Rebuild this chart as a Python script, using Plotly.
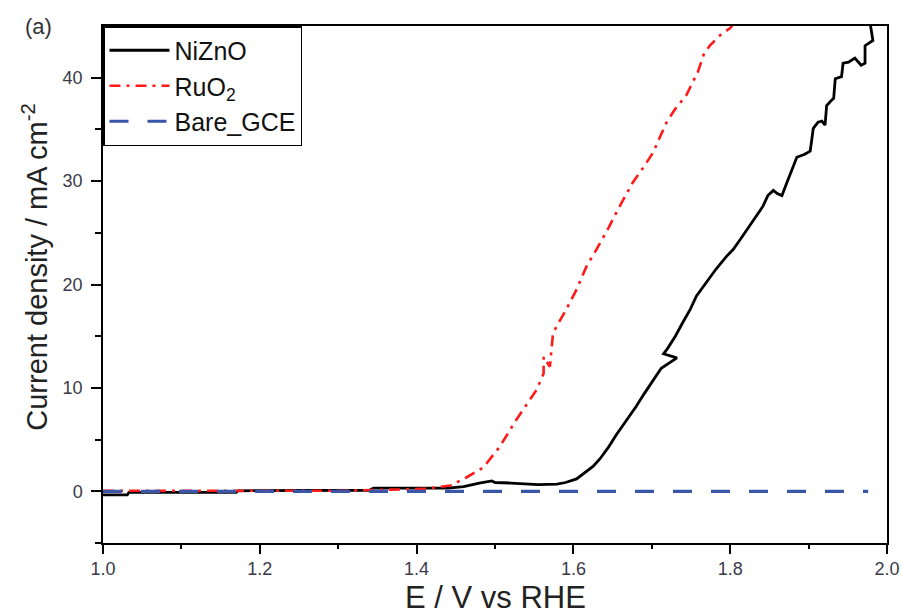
import plotly.graph_objects as go

# Linear sweep voltammetry data (E vs RHE in V, current density in mA cm^-2)
nizno_e = [1.000, 1.031, 1.033, 1.100, 1.170, 1.172, 1.250, 1.340, 1.345, 1.400,
           1.440, 1.460, 1.480, 1.496, 1.500, 1.520, 1.536, 1.555, 1.579, 1.590,
           1.604, 1.615, 1.625, 1.634, 1.645, 1.655, 1.668, 1.680, 1.690, 1.702,
           1.712, 1.732, 1.715, 1.720, 1.730, 1.740, 1.749, 1.757, 1.770, 1.782,
           1.795, 1.804, 1.815, 1.825, 1.835, 1.842, 1.848, 1.855, 1.860, 1.866,
           1.871, 1.876, 1.885, 1.895, 1.902, 1.904, 1.906, 1.912, 1.917, 1.921,
           1.923, 1.929, 1.932, 1.934, 1.942, 1.944, 1.951, 1.959, 1.963, 1.967,
           1.972, 1.972, 1.982, 1.980, 1.978]
nizno_j = [-0.35, -0.35, -0.10, -0.10, -0.10, 0.05, 0.05, 0.10, 0.30, 0.30,
           0.30, 0.45, 0.80, 1.00, 0.85, 0.80, 0.72, 0.65, 0.70, 0.85,
           1.20, 1.80, 2.40, 3.15, 4.30, 5.50, 6.90, 8.20, 9.40, 10.8,
           11.9, 12.9, 13.3, 13.8, 15.0, 16.4, 17.6, 18.9, 20.3, 21.5,
           22.7, 23.4, 24.6, 25.7, 26.8, 27.6, 28.6, 29.1, 28.8, 28.6,
           29.6, 30.5, 32.3, 32.6, 32.9, 34.0, 35.1, 35.7, 35.8, 35.4,
           37.3, 37.8, 38.0, 39.9, 40.1, 41.4, 41.5, 41.9, 41.5, 41.2,
           41.4, 43.1, 43.6, 44.6, 45.5]

ruo2_e = [1.000, 1.100, 1.200, 1.300, 1.400, 1.409, 1.443, 1.464, 1.485, 1.506,
          1.527, 1.540, 1.553, 1.562, 1.562, 1.570, 1.574, 1.582, 1.591, 1.604,
          1.617, 1.628, 1.634, 1.645, 1.655, 1.666, 1.676, 1.690, 1.702, 1.710,
          1.719, 1.730, 1.744, 1.759, 1.766, 1.774, 1.787, 1.800, 1.810]
ruo2_j = [0.05, 0.02, 0.05, 0.05, 0.15, 0.23, 0.55, 1.36, 2.30, 4.30,
          6.90, 8.30, 9.80, 11.4, 13.0, 12.05, 15.3, 16.4, 17.6, 19.5,
          21.8, 23.2, 24.0, 25.5, 27.0, 28.5, 29.9, 31.4, 32.8, 34.2,
          35.7, 37.0, 38.3, 40.6, 42.2, 43.1, 44.1, 44.8, 45.8]

gce_e = [1.000, 1.250, 1.500, 1.750, 1.976]
gce_j = [0.0, 0.0, 0.0, 0.0, 0.0]

x_ticks = [1.0, 1.2, 1.4, 1.6, 1.8, 2.0]
y_ticks = [0, 10, 20, 30, 40]

FONT = "Liberation Sans, Arial, sans-serif"
TICK_FONT = dict(family=FONT, size=18, color="#3a3a48")
TITLE_FONT = dict(family=FONT, size=31, color="#222222")

fig = go.Figure()
fig.add_trace(go.Scatter(x=nizno_e, y=nizno_j, mode="lines", name="NiZnO",
                         line=dict(color="#000000", width=2.8)))
fig.add_trace(go.Scatter(x=ruo2_e, y=ruo2_j, mode="lines", name="RuO<sub>2</sub>",
                         line=dict(color="#ff1a1a", width=2.6, dash="11px,6px,3px,6px")))
fig.add_trace(go.Scatter(x=gce_e, y=gce_j, mode="lines", name="Bare_GCE",
                         line=dict(color="#3a56a8", width=3.2, dash="19px,19px")))

axis_common = dict(
    showline=True, linecolor="#000000", linewidth=1.5, mirror=True,
    showgrid=False, zeroline=False, automargin=False,
    ticks="outside", tickwidth=1.5, tickcolor="#000000",
    tickfont=TICK_FONT,
)

fig.update_xaxes(
    range=[1.0, 2.0], tickvals=x_ticks, ticktext=[f"{v:.1f}" for v in x_ticks],
    ticklen=9, ticklabelstandoff=0,
    minor=dict(ticks="outside", ticklen=4, tickwidth=1.5, tickcolor="#000000", dtick=0.1),
    **axis_common,
)
fig.update_yaxes(
    range=[-5, 45], tickvals=y_ticks, ticktext=[str(v) for v in y_ticks],
    ticklen=10, ticklabelstandoff=5,
    minor=dict(ticks="outside", ticklen=6, tickwidth=1.5, tickcolor="#000000",
               tickvals=[-5, 5, 15, 25, 35]),
    **axis_common,
)

# Axis titles
fig.add_annotation(text="E / V vs RHE", xref="paper", yref="paper",
                   x=0.5, y=-0.106, xanchor="center", yanchor="middle",
                   showarrow=False, font=TITLE_FONT)
fig.add_annotation(text="Current density / mA cm<sup>-2</sup>", xref="paper", yref="paper",
                   x=-0.087, y=0.534, xanchor="center", yanchor="middle", textangle=-90,
                   showarrow=False, font=dict(family=FONT, size=29, color="#222222"))

# Panel label
fig.add_annotation(text="(a)", xref="paper", yref="paper", x=-0.102, y=1.0,
                   xanchor="left", yanchor="middle", showarrow=False,
                   font=dict(family=FONT, size=22, color="#333333"))

fig.update_layout(
    width=901, height=611,
    margin=dict(l=103, r=14, t=26, b=68),
    paper_bgcolor="white", plot_bgcolor="white",
    showlegend=True,
    legend=dict(x=0, y=1, xanchor="left", yanchor="top",
                bordercolor="#000000", borderwidth=1.5, bgcolor="white",
                font=dict(family=FONT, size=25, color="#111111"),
                tracegroupgap=0, itemwidth=60),
)

fig.write_html("out.html")
